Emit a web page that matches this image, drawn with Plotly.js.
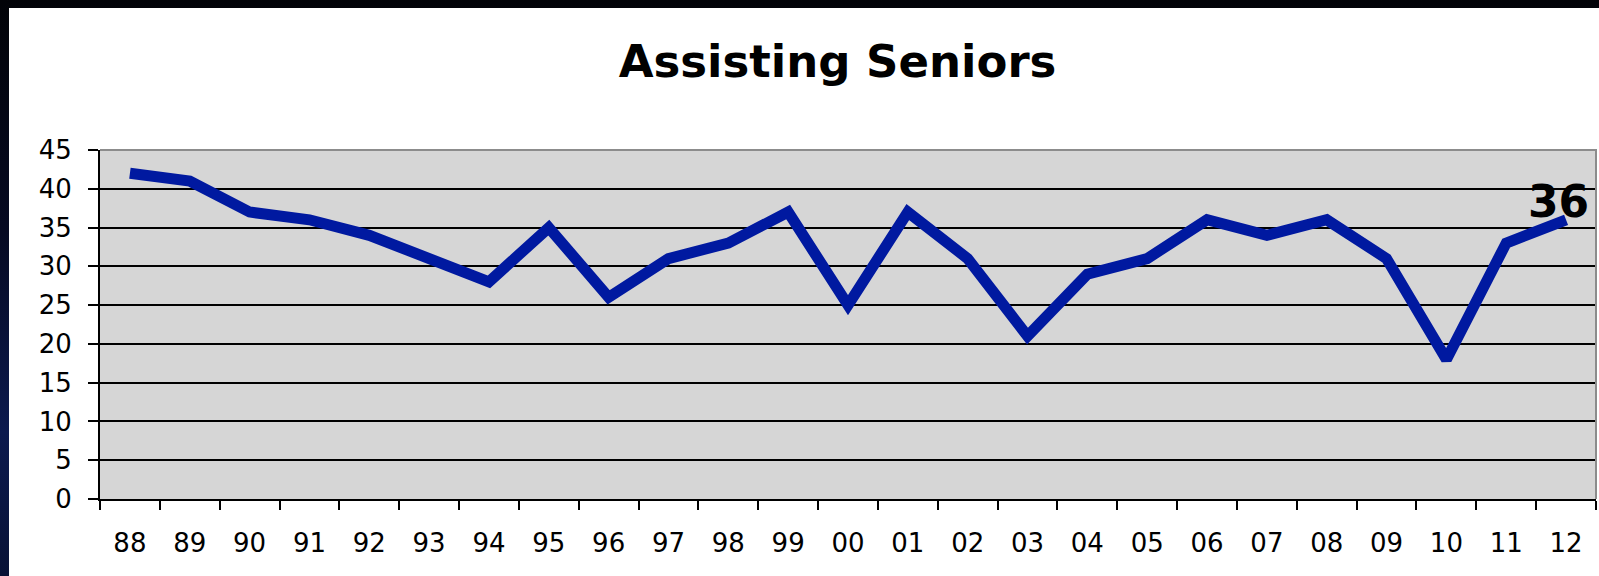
<!DOCTYPE html>
<html>
<head>
<meta charset="utf-8">
<script src="https://cdn.plot.ly/plotly-3.0.1.min.js"></script>
<style>
  html, body { margin: 0; padding: 0; width: 1599px; height: 576px; overflow: hidden;
    background: linear-gradient(180deg, #020308 0%, #060a22 40%, #0c1a4e 75%, #081236 100%); }
  #chart { position: absolute; left: 9px; top: 8px; width: 1590px; height: 568px; background: #fff; }
</style>
</head>
<body>
<div id="chart"></div>
<script>
const titleText = "Assisting Seniors";
const years = ["88","89","90","91","92","93","94","95","96","97","98","99","00","01","02","03","04","05","06","07","08","09","10","11","12"];
const seniors = [42,41,37,36,34,31,28,35,26,31,33,37,25,37,31,21,29,31,36,34,36,31,18,33,36];
const yTicks = [0,5,10,15,20,25,30,35,40,45];

const lastIdx = seniors.length - 1;

const trace = {
  type: "scatter",
  mode: "lines",
  x: years,
  y: seniors,
  line: { color: "#0019a0", width: 11 },
  hoverinfo: "x+y"
};

const layout = {
  width: 1590,
  height: 568,
  margin: { l: 91, r: 3, t: 142, b: 77 },
  paper_bgcolor: "#ffffff",
  plot_bgcolor: "#d6d6d6",
  showlegend: false,
  title: {
    text: "<b>" + titleText + "</b>",
    font: { family: "DejaVu Sans, Verdana, sans-serif", size: 45, color: "#000" },
    x: 0.493, xref: "paper", xanchor: "center",
    y: 0.906, yref: "container", yanchor: "middle"
  },
  xaxis: {
    type: "category",
    range: [-0.5, years.length - 0.5],
    tickson: "boundaries",
    ticks: "outside",
    ticklen: 9,
    tickwidth: 2,
    tickcolor: "#000",
    showline: true,
    linecolor: "#000",
    linewidth: 2,
    showgrid: false,
    zeroline: false,
    ticklabelstandoff: 20,
    tickfont: { family: "DejaVu Sans, Verdana, sans-serif", size: 26, color: "#000" },
    fixedrange: true
  },
  yaxis: {
    range: [0, 45],
    tickvals: yTicks,
    ticktext: yTicks.map(String),
    ticks: "outside",
    ticklen: 10,
    tickwidth: 2,
    tickcolor: "#000",
    showline: true,
    linecolor: "#000",
    linewidth: 2,
    showgrid: true,
    gridcolor: "#000",
    gridwidth: 2,
    zeroline: false,
    ticklabelstandoff: 11,
    tickfont: { family: "DejaVu Sans, Verdana, sans-serif", size: 26, color: "#000" },
    fixedrange: true
  },
  shapes: [
    {
      type: "path", xref: "paper", yref: "paper",
      path: "M0,1 L1,1 L1,0",
      line: { color: "#8c8c8c", width: 2 },
      layer: "above"
    }
  ],
  annotations: [
    {
      x: lastIdx, y: seniors[lastIdx],
      xref: "x", yref: "y",
      text: "<b>" + String(seniors[lastIdx]) + "</b>",
      showarrow: false,
      xanchor: "center", yanchor: "middle",
      xshift: -8, yshift: 18,
      font: { family: "DejaVu Sans, Verdana, sans-serif", size: 44, color: "#000" }
    }
  ]
};

Plotly.newPlot("chart", [trace], layout, { displayModeBar: false, staticPlot: true });
</script>
</body>
</html>
